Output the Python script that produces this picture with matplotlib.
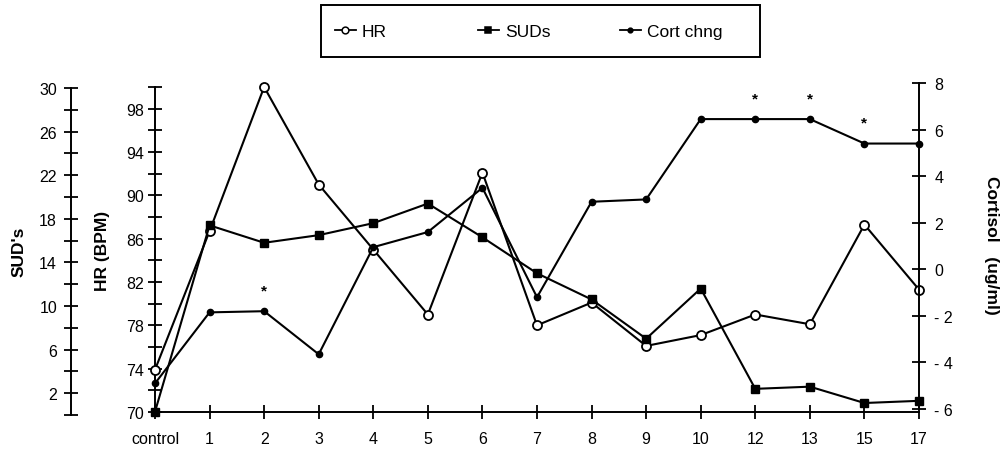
import matplotlib
matplotlib.use("Agg")
import matplotlib.pyplot as plt
from matplotlib.lines import Line2D
from matplotlib.patches import Rectangle

plt.rcParams["font.family"] = ["Liberation Sans", "DejaVu Sans"]

# ── Data ─────────────────────────────────────────────────────────────────────
SESSIONS = ["control", "1", "2", "3", "4", "5", "6", "7", "8", "9",
            "10", "12", "13", "15", "17"]
HR_BPM = [73.9, 86.7, 100.0, 91.0, 85.0, 79.0, 92.1, 78.0, 80.1, 76.1,
          77.1, 79.0, 78.1, 87.3, 81.3]
SUDS = [0.3, 17.4, 15.8, 16.5, 17.6, 19.4, 16.3, 13.0, 10.6, 7.0,
        11.6, 2.4, 2.6, 1.1, 1.3]
CORT_CHNG = [-4.9, -1.85, -1.8, -3.65, 0.95, 1.6, 3.5, -1.2, 2.9, 3.0,
             6.45, 6.45, 6.45, 5.4, 5.4]
SIG_SESSIONS = ["2", "12", "13", "15"]   # marked with *

SUD_TICKS = list(range(0, 31, 2))
SUD_LABELS = list(range(2, 31, 4))
HR_TICKS = list(range(70, 101, 2))
HR_LABELS = list(range(70, 99, 4))
CORT_TICKS = list(range(-6, 9, 2))
CORT_TICKLABELS = ["- 6", "- 4", "- 2", "0", "2", "4", "6", "8"]

W, H = 1001, 452


def box(left, top, right, bottom):
    """Pixel box -> figure fraction rect."""
    return [left / W, 1 - bottom / H, (right - left) / W, (bottom - top) / H]


fig = plt.figure(figsize=(W / 100, H / 100), dpi=100)
ax = fig.add_axes(box(155, 88, 919, 413))      # HR + x axis
ax_s = fig.add_axes(box(155, 89, 919, 416))    # SUD's (outer left)
ax_c = fig.add_axes(box(155, 84, 919, 410))    # Cortisol (right)

xs = list(range(len(SESSIONS)))
tick_kw = dict(direction="inout", length=10, width=1.3, color="black",
               labelsize=11.5)

for a in (ax, ax_s, ax_c):
    a.set_xlim(0, len(SESSIONS) - 1)
    for sp in a.spines.values():
        sp.set_visible(False)
        sp.set_linewidth(1.4)
ax_s.patch.set_visible(False)
ax_c.patch.set_visible(False)

# HR axis + x axis
ax.spines["left"].set_visible(True)
ax.spines["bottom"].set_visible(True)
ax.set_ylim(70, 100)
ax.set_yticks(HR_TICKS, minor=True)
ax.set_yticks(HR_LABELS)
ax.set_xticks(xs)
ax.set_xticklabels(SESSIONS)
ax.tick_params(axis="y", which="both", pad=3, **tick_kw)
ax.tick_params(axis="x", pad=9, **tick_kw)

# SUD's axis
ax_s.spines["left"].set_visible(True)
ax_s.spines["left"].set_position(("axes", (71 - 155) / 764))
ax_s.set_ylim(0, 30)
ax_s.set_yticks(SUD_TICKS, minor=True)
ax_s.set_yticks(SUD_LABELS)
ax_s.tick_params(axis="y", which="both", pad=5, **tick_kw)
ax_s.set_xticks([])

# Cortisol axis
ax_c.spines["right"].set_visible(True)
ax_c.yaxis.tick_right()
ax_c.set_ylim(-6, 8)
ax_c.set_yticks(CORT_TICKS)
ax_c.set_yticklabels(CORT_TICKLABELS)
ax_c.tick_params(axis="y", pad=6, **tick_kw)
ax_c.set_xticks([])

line_kw = dict(color="black", lw=1.5, clip_on=False)
hr_line, = ax.plot(xs, HR_BPM, marker="o", ms=6.5, mfc="white", mew=1.3,
                   zorder=3, **line_kw)
sud_line, = ax_s.plot(xs, SUDS, marker="s", ms=5.5, mfc="black", zorder=3,
                      **line_kw)
cort_line, = ax_c.plot(xs, CORT_CHNG, marker="o", ms=4.5, mfc="black",
                       zorder=4, **line_kw)

for s in SIG_SESSIONS:
    i = SESSIONS.index(s)
    ax_c.annotate("*", (i, CORT_CHNG[i]), xytext=(0, 15),
                  textcoords="offset points", ha="center", va="center",
                  fontsize=11, fontweight="bold")

# Axis titles
fig.text(19 / W, 1 - 252 / H, "SUD's", rotation=90, ha="center",
         va="center", fontsize=12.5, fontweight="bold")
fig.text(103 / W, 1 - 251 / H, "HR (BPM)", rotation=90, ha="center",
         va="center", fontsize=12.5, fontweight="bold")
fig.text(991 / W, 1 - 245 / H, "Cortisol   (ug/ml)", rotation=-90,
         ha="center", va="center", fontsize=12.5, fontweight="bold")

# Legend: three evenly spaced entries inside one rectangular frame
entries = [(hr_line, "HR", 335), (sud_line, "SUDs", 478),
           (cort_line, "Cort chng", 620)]
for handle, label, px in entries:
    h = Line2D([], [], color="black", lw=1.3, marker=handle.get_marker(),
               ms=handle.get_markersize() * 0.75,
               mfc=handle.get_markerfacecolor(), mew=1.1)
    fig.legend(handles=[h], labels=[label], loc="center left",
               bbox_to_anchor=(px / W, 1 - 32 / H), frameon=False,
               borderpad=0, borderaxespad=0, handlelength=1.2,
               handletextpad=0.35, fontsize=12.5)
fig.add_artist(Rectangle(box(321, 6, 760, 58)[:2], 439 / W, 52 / H,
                         transform=fig.transFigure, fill=False,
                         lw=1.4, color="black"))

fig.savefig("out.png", dpi=100)
